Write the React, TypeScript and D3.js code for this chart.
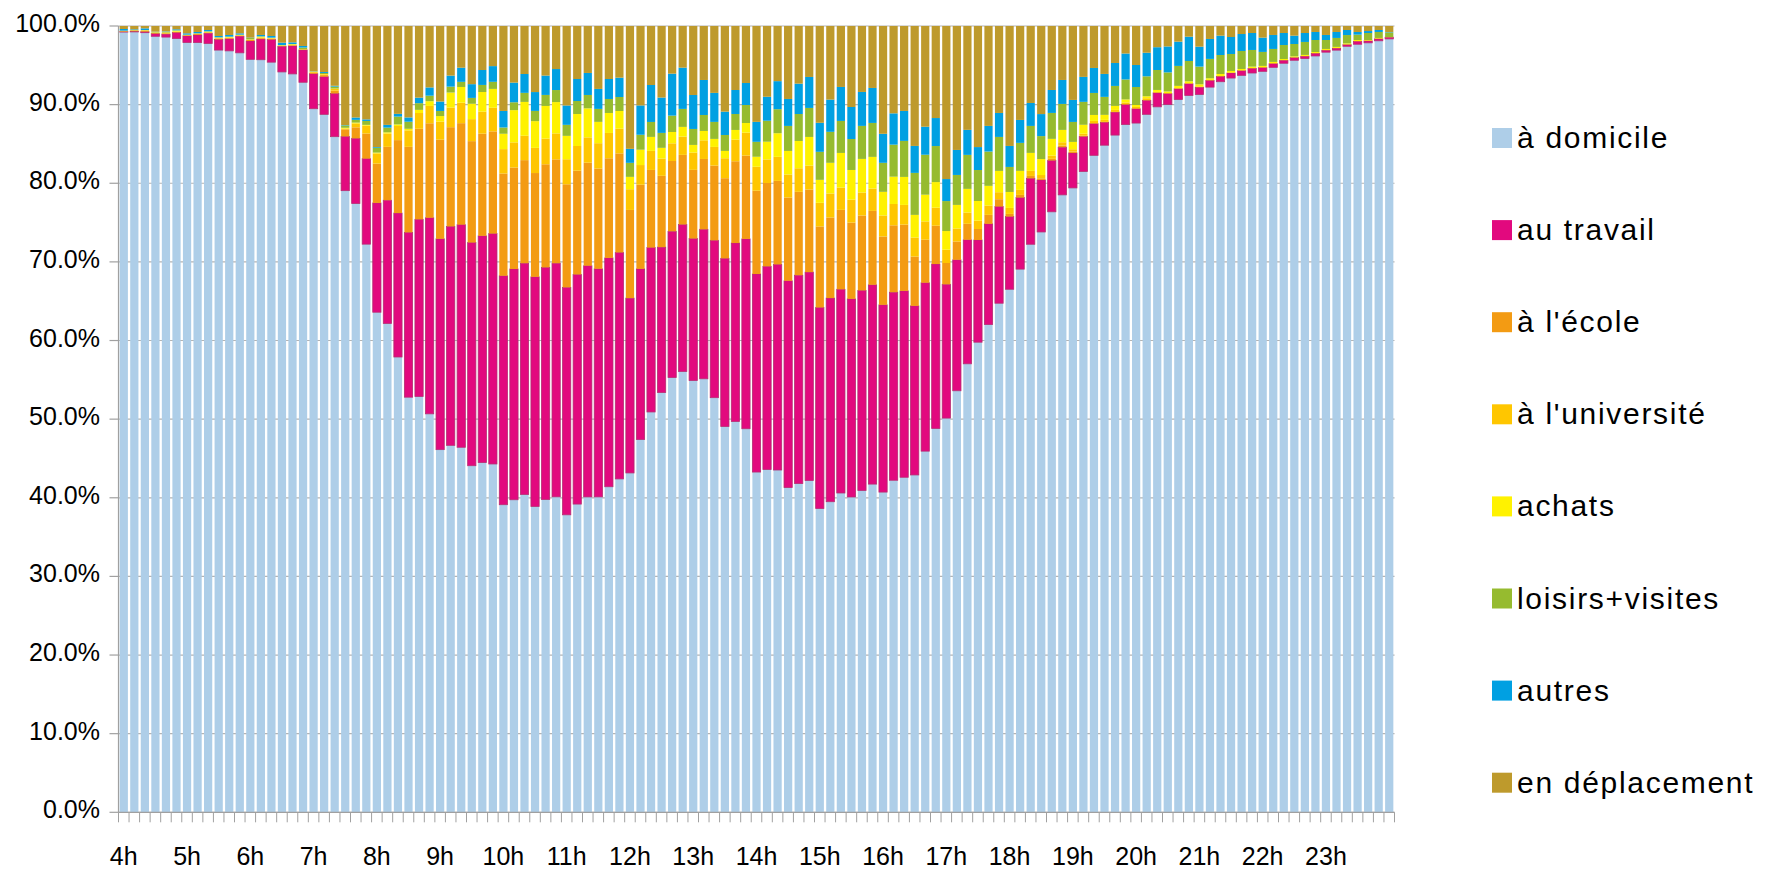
import React from "react";
import * as d3 from "d3";

// ---- Data (percent of population by location, every 10 minutes from 4h00 to 24h00) ----
const hourLabels = ["4h","5h","6h","7h","8h","9h","10h","11h","12h","13h","14h","15h","16h","17h","18h","19h","20h","21h","22h","23h"];
const minuteSlots = ["00","10","20","30","40","50"];
const lastSlot = "24h00";

const seriesNames = ["à domicile","au travail","à l'école","à l'université","achats","loisirs+visites","autres","en déplacement"];
const seriesColors = ["#AECEE8","#E2097E","#F39B13","#FFC600","#FFF200","#96BB2F","#00A0E2","#BE9A2C"];

const domicile = [99.28,99.2,99.15,98.73,98.6,98.4,97.9,97.9,97.75,96.9,96.8,96.5,95.76,95.72,95.4,94.15,93.9,92.9,89.5,88.7,
  85.9,79.1,77.5,72.4,63.6,62.3,58.05,52.9,52.8,50.6,46.1,46.6,46.4,44.1,44.5,44.3,39.1,39.75,40.4,38.9,
  39.75,40.1,37.8,39.2,40.1,40.1,41.4,42.4,43.1,47.4,50.9,53.4,55.3,56.1,54.9,55.1,52.7,49.1,49.7,48.8,
  43.3,43.6,43.45,41.3,41.8,42.2,38.6,39.5,40.6,40.1,40.95,41.75,40.7,42.2,42.6,42.9,45.9,48.8,50.1,53.6,
  57.0,59.8,62.0,64.75,66.5,69.1,72.25,73.8,76.4,78.5,79.4,81.6,83.6,84.9,86.1,87.5,87.7,88.8,89.8,90.0,
  90.7,91.2,91.36,92.3,92.97,93.4,93.8,94.07,94.3,94.8,95.3,95.7,95.9,96.2,96.7,96.95,97.46,97.7,97.9,98.14,
  98.43];
const travail = [0.05,0.08,0.13,0.34,0.38,0.76,0.85,0.97,1.31,1.36,1.53,2.12,2.33,2.63,2.88,3.26,3.56,4.11,4.45,4.79,
  5.5,6.9,8.3,10.9,13.9,15.7,18.35,21.0,22.5,24.9,26.8,27.8,28.3,28.4,28.85,29.3,29.1,29.35,29.4,29.2,
  29.5,29.7,28.9,29.2,29.4,29.0,29.1,28.8,22.2,21.7,20.9,18.5,18.6,18.7,18.05,19.0,20.0,21.4,22.7,24.15,
  25.2,25.85,26.1,26.3,26.5,26.5,25.55,25.9,25.9,25.2,25.45,25.35,23.8,23.9,23.7,21.5,21.4,20.9,17.0,16.65,
  15.76,13.0,12.8,12.3,9.24,9.1,8.39,6.61,6.53,6.06,4.45,4.45,4.03,2.92,2.92,2.54,1.82,1.78,1.78,1.4,
  1.36,1.48,0.93,0.85,0.68,0.64,0.59,0.59,0.47,0.47,0.38,0.34,0.3,0.34,0.25,0.25,0.21,0.38,0.25,0.25,
  0.21];
const ecole = [0.03,0.08,0.1,0.08,0.08,0.05,0.03,0.12,0.05,0.1,0.07,0.05,0.13,0.1,0.1,0.03,0.05,0.03,0.12,0.2,
  0.35,0.9,1.4,3.2,5.0,6.8,9.3,10.9,11.5,12.0,12.6,12.6,12.9,12.9,13.0,13.0,13.0,12.9,13.1,13.2,
  13.1,13.2,13.1,13.2,13.1,12.75,12.67,12.6,11.2,10.7,9.87,9.07,8.94,8.86,8.73,8.94,9.5,10.2,10.4,10.6,
  10.6,10.6,10.6,10.6,10.6,10.5,10.3,10.25,10.1,9.7,9.53,9.4,8.69,8.5,8.43,6.27,5.47,4.87,2.71,2.33,
  2.03,1.4,1.14,0.93,0.34,0.34,0.3,0.21,0.21,0.21,0.17,0.1,0.05,0.05,0.03,0.03,0.03,0.02,0.02,0.02,
  0.02,0.02,0.02,0.02,0.02,0.02,0.02,0.02,0.02,0.02,0.01,0.01,0.01,0.01,0.01,0.01,0.01,0.01,0.01,0.01,
  0.0];
const universite = [0.03,0.05,0.07,0.02,0.05,0.08,0.05,0.05,0.08,0.08,0.1,0.07,0.05,0.1,0.08,0.05,0.08,0.05,0.1,0.1,
  0.25,0.1,0.5,1.0,1.3,1.7,1.8,2.1,2.0,2.2,2.3,2.5,2.6,2.8,2.8,3.0,3.1,3.2,3.1,3.2,
  3.26,3.3,3.18,3.14,3.22,3.22,3.22,3.14,2.63,2.5,2.42,2.2,2.25,2.33,2.2,2.37,2.37,2.54,2.75,2.92,
  3.05,3.0,3.05,2.92,3.0,3.05,3.0,3.05,2.84,2.92,2.92,2.84,2.67,2.71,2.5,2.42,2.33,2.29,1.69,1.65,
  1.44,1.06,1.19,0.89,0.76,0.64,0.64,0.42,0.42,0.42,0.3,0.25,0.3,0.25,0.25,0.25,0.2,0.25,0.1,0.05,
  0.05,0.05,0.05,0.05,0.03,0.03,0.03,0.03,0.03,0.03,0.02,0.02,0.02,0.02,0.02,0.02,0.02,0.02,0.02,0.02,
  0.01];
const achats = [0.04,0.0,0.02,0.05,0.07,0.12,0.05,0.02,0.08,0.05,0.08,0.05,0.03,0.1,0.03,0.05,0.08,0.03,0.03,0.04,
  0.02,0.1,0.1,0.1,0.1,0.15,0.2,0.2,0.4,0.6,0.7,1.9,2.0,1.95,2.5,2.4,1.95,4.1,4.3,3.4,
  4.15,3.98,2.97,4.07,3.69,2.71,2.54,2.25,1.57,1.95,1.78,1.36,1.44,1.23,0.97,1.19,1.02,0.93,1.23,1.23,
  1.27,2.25,3.0,3.0,3.47,3.64,2.92,3.9,4.4,3.77,4.28,4.03,3.0,3.47,3.56,2.88,3.39,3.26,2.37,3.0,
  3.0,2.5,2.5,2.71,2.03,2.42,2.29,2.03,2.12,1.57,0.93,1.14,0.76,0.64,0.51,0.38,0.25,0.25,0.25,0.21,
  0.3,0.25,0.3,0.21,0.25,0.21,0.17,0.17,0.17,0.17,0.13,0.13,0.13,0.13,0.13,0.13,0.13,0.13,0.08,0.08,
  0.02];
const loisirs = [0.03,0.04,0.02,0.08,0.1,0.03,0.02,0.02,0.02,0.03,0.03,0.02,0.17,0.05,0.03,0.03,0.03,0.2,0.03,0.13,
  0.25,0.3,0.35,0.5,0.6,0.6,1.0,0.9,0.85,0.7,0.65,0.75,0.65,0.75,0.9,0.9,0.8,1.0,1.15,1.3,
  1.4,1.53,1.4,1.65,1.7,1.65,1.78,1.78,1.78,1.9,1.9,1.9,2.08,2.29,2.03,2.03,2.16,2.03,2.03,2.29,
  1.9,2.67,3.05,3.18,3.43,3.69,3.56,3.94,4.07,3.94,4.2,4.32,3.69,4.07,4.58,5.34,5.08,4.58,3.81,3.81,
  4.32,3.94,4.36,4.32,3.18,3.56,3.43,2.92,3.3,3.3,2.54,2.92,2.8,2.29,2.54,2.54,2.29,2.54,2.54,2.42,
  2.54,2.58,2.25,2.46,2.42,2.16,2.29,2.12,1.78,1.65,1.78,1.57,1.65,1.53,1.14,1.14,1.06,0.68,0.89,0.76,
  0.59];
const autres = [0.21,0.08,0.21,0.02,0.05,0.13,0.17,0.17,0.17,0.17,0.21,0.17,0.05,0.17,0.21,0.3,0.21,0.2,0.03,0.12,
  0.1,0.05,0.3,0.2,0.1,0.35,0.35,0.55,0.7,1.05,1.2,1.4,1.8,1.75,1.9,2.0,2.1,2.5,2.4,2.4,
  2.46,2.67,2.46,2.8,2.8,2.54,2.54,2.46,1.78,3.73,4.7,4.5,5.34,5.25,4.32,4.45,3.69,2.97,3.05,2.8,
  2.54,3.05,3.56,3.43,3.86,3.94,3.69,4.1,4.32,4.07,4.32,4.45,3.69,3.98,3.81,3.43,3.56,3.56,2.8,3.18,
  3.18,2.92,3.26,3.05,2.67,2.92,2.92,2.8,2.92,3.05,2.8,3.18,3.18,2.92,2.92,3.3,2.8,3.0,2.9,3.3,
  3.09,3.09,2.54,2.54,2.46,2.16,2.16,2.16,1.82,1.78,1.53,1.06,1.14,1.02,0.64,0.76,0.64,0.34,0.25,0.25,
  0.05];
const deplacement = [0.38,0.42,0.3,0.72,0.68,0.42,0.93,0.76,0.51,1.27,1.14,0.93,1.48,1.14,1.27,2.12,2.08,2.54,5.76,5.85,
  7.6,12.6,11.65,11.9,15.4,12.6,11.2,11.65,9.1,7.8,9.6,6.3,5.3,7.4,5.6,5.1,10.8,7.2,6.1,8.4,
  6.3,5.47,10.1,6.74,5.97,8.0,6.74,6.57,15.6,10.1,7.5,9.1,6.06,5.3,8.77,6.86,8.5,10.9,8.14,7.25,
  12.2,9.0,7.0,9.28,7.33,6.48,12.3,9.36,7.75,10.3,8.39,7.88,13.7,11.1,10.8,15.25,12.8,11.7,19.45,15.76,
  13.2,15.4,12.7,11.06,15.25,11.95,9.79,11.2,8.14,6.86,9.4,6.48,5.34,6.1,4.7,3.5,4.96,3.4,2.7,2.6,
  1.99,1.36,2.63,1.65,1.23,1.4,1.02,0.89,1.48,1.14,0.89,1.23,0.89,0.76,1.14,0.76,0.51,0.76,0.64,0.51,
  0.76];

const seriesValues = [domicile, travail, ecole, universite, achats, loisirs, autres, deplacement];
const yTicks = [0, 0.1, 0.2, 0.3, 0.4, 0.5, 0.6, 0.7, 0.8, 0.9, 1.0];

// ---- Layout ----
const W = 1774, H = 870;
const plotLeft = 118.5, plotRight = 1394.5, plotTop = 26, plotBottom = 812.3;
const FONT = "'Liberation Sans', Arial, Helvetica, sans-serif";

export default function App() {
  const categories: string[] = [];
  hourLabels.forEach((h) => minuteSlots.forEach((m) => categories.push(h + m)));
  categories.push(lastSlot);

  const rows = categories.map((c, i) => {
    const r: any = { cat: c };
    seriesNames.forEach((s, k) => (r[s] = seriesValues[k][i]));
    return r;
  });

  const stack = d3.stack<any>().keys(seriesNames).offset(d3.stackOffsetExpand);
  const layers = stack(rows);

  const x = d3.scaleBand<string>().domain(categories).range([plotLeft, plotRight]).paddingInner(0.22).paddingOuter(0.11);
  const xb = d3.scaleBand<string>().domain(categories).range([plotLeft, plotRight]);
  const y = d3.scaleLinear().domain([0, 1]).range([plotBottom, plotTop]);
  const fmt = d3.format(".1%");

  const hourCats = hourLabels.map((h) => h + "00");

  return (
    <div style={{ position: "absolute", left: 0, top: 0, width: W, height: H, overflow: "hidden", background: "#fff" }}>
      <svg width={W} height={H} style={{ display: "block" }} fontFamily={FONT}>
        {/* gridlines */}
        {yTicks.map((t) => (
          <line key={"g" + t} x1={plotLeft} x2={plotRight} y1={y(t)} y2={y(t)} stroke="#b3b3b3" strokeWidth={1.2} />
        ))}
        {/* bars */}
        {layers.map((layer, k) => (
          <g key={layer.key} fill={seriesColors[k]}>
            {layer.map((d, i) => {
              const h = y(d[0]) - y(d[1]);
              if (h <= 0) return null;
              return (
                <rect
                  key={i}
                  x={x(categories[i])}
                  y={y(d[1])}
                  width={x.bandwidth()}
                  height={h}
                  stroke={k === 1 ? "#B52C72" : "none"}
                  strokeWidth={k === 1 ? 0.8 : 0}
                />
              );
            })}
          </g>
        ))}
        {/* y axis */}
        <line x1={plotLeft} x2={plotLeft} y1={plotTop} y2={plotBottom} stroke="#a0a0a0" strokeWidth={1.2} />
        {yTicks.map((t) => (
          <g key={"yt" + t}>
            <line x1={plotLeft - 9} x2={plotLeft} y1={y(t)} y2={y(t)} stroke="#a0a0a0" strokeWidth={1.2} />
            <text x={100} y={y(t) + 6} textAnchor="end" fontSize={25} fill="#000">
              {fmt(t)}
            </text>
          </g>
        ))}
        {/* x axis */}
        <line x1={plotLeft} x2={plotRight} y1={plotBottom} y2={plotBottom} stroke="#a0a0a0" strokeWidth={1.2} />
        {categories.map((c) => (
          <line key={"xt" + c} x1={xb(c)!} x2={xb(c)!} y1={plotBottom} y2={plotBottom + 10} stroke="#a0a0a0" strokeWidth={1} />
        ))}
        <line x1={plotRight} x2={plotRight} y1={plotBottom} y2={plotBottom + 10} stroke="#a0a0a0" strokeWidth={1} />
        {hourCats.map((c, i) => (
          <text key={"xl" + c} x={x(c)! + x.bandwidth() / 2} y={865} textAnchor="middle" fontSize={25} fill="#000">
            {hourLabels[i]}
          </text>
        ))}
        {/* legend */}
        {seriesNames.map((s, i) => {
          const cy = 138 + 92.1 * i;
          return (
            <g key={"lg" + s}>
              <rect x={1492} y={cy - 10} width={20} height={20} fill={seriesColors[i]} />
              <text x={1517} y={cy + 10} fontSize={30} letterSpacing={1.7} fill="#000">
                {s}
              </text>
            </g>
          );
        })}
      </svg>
    </div>
  );
}
